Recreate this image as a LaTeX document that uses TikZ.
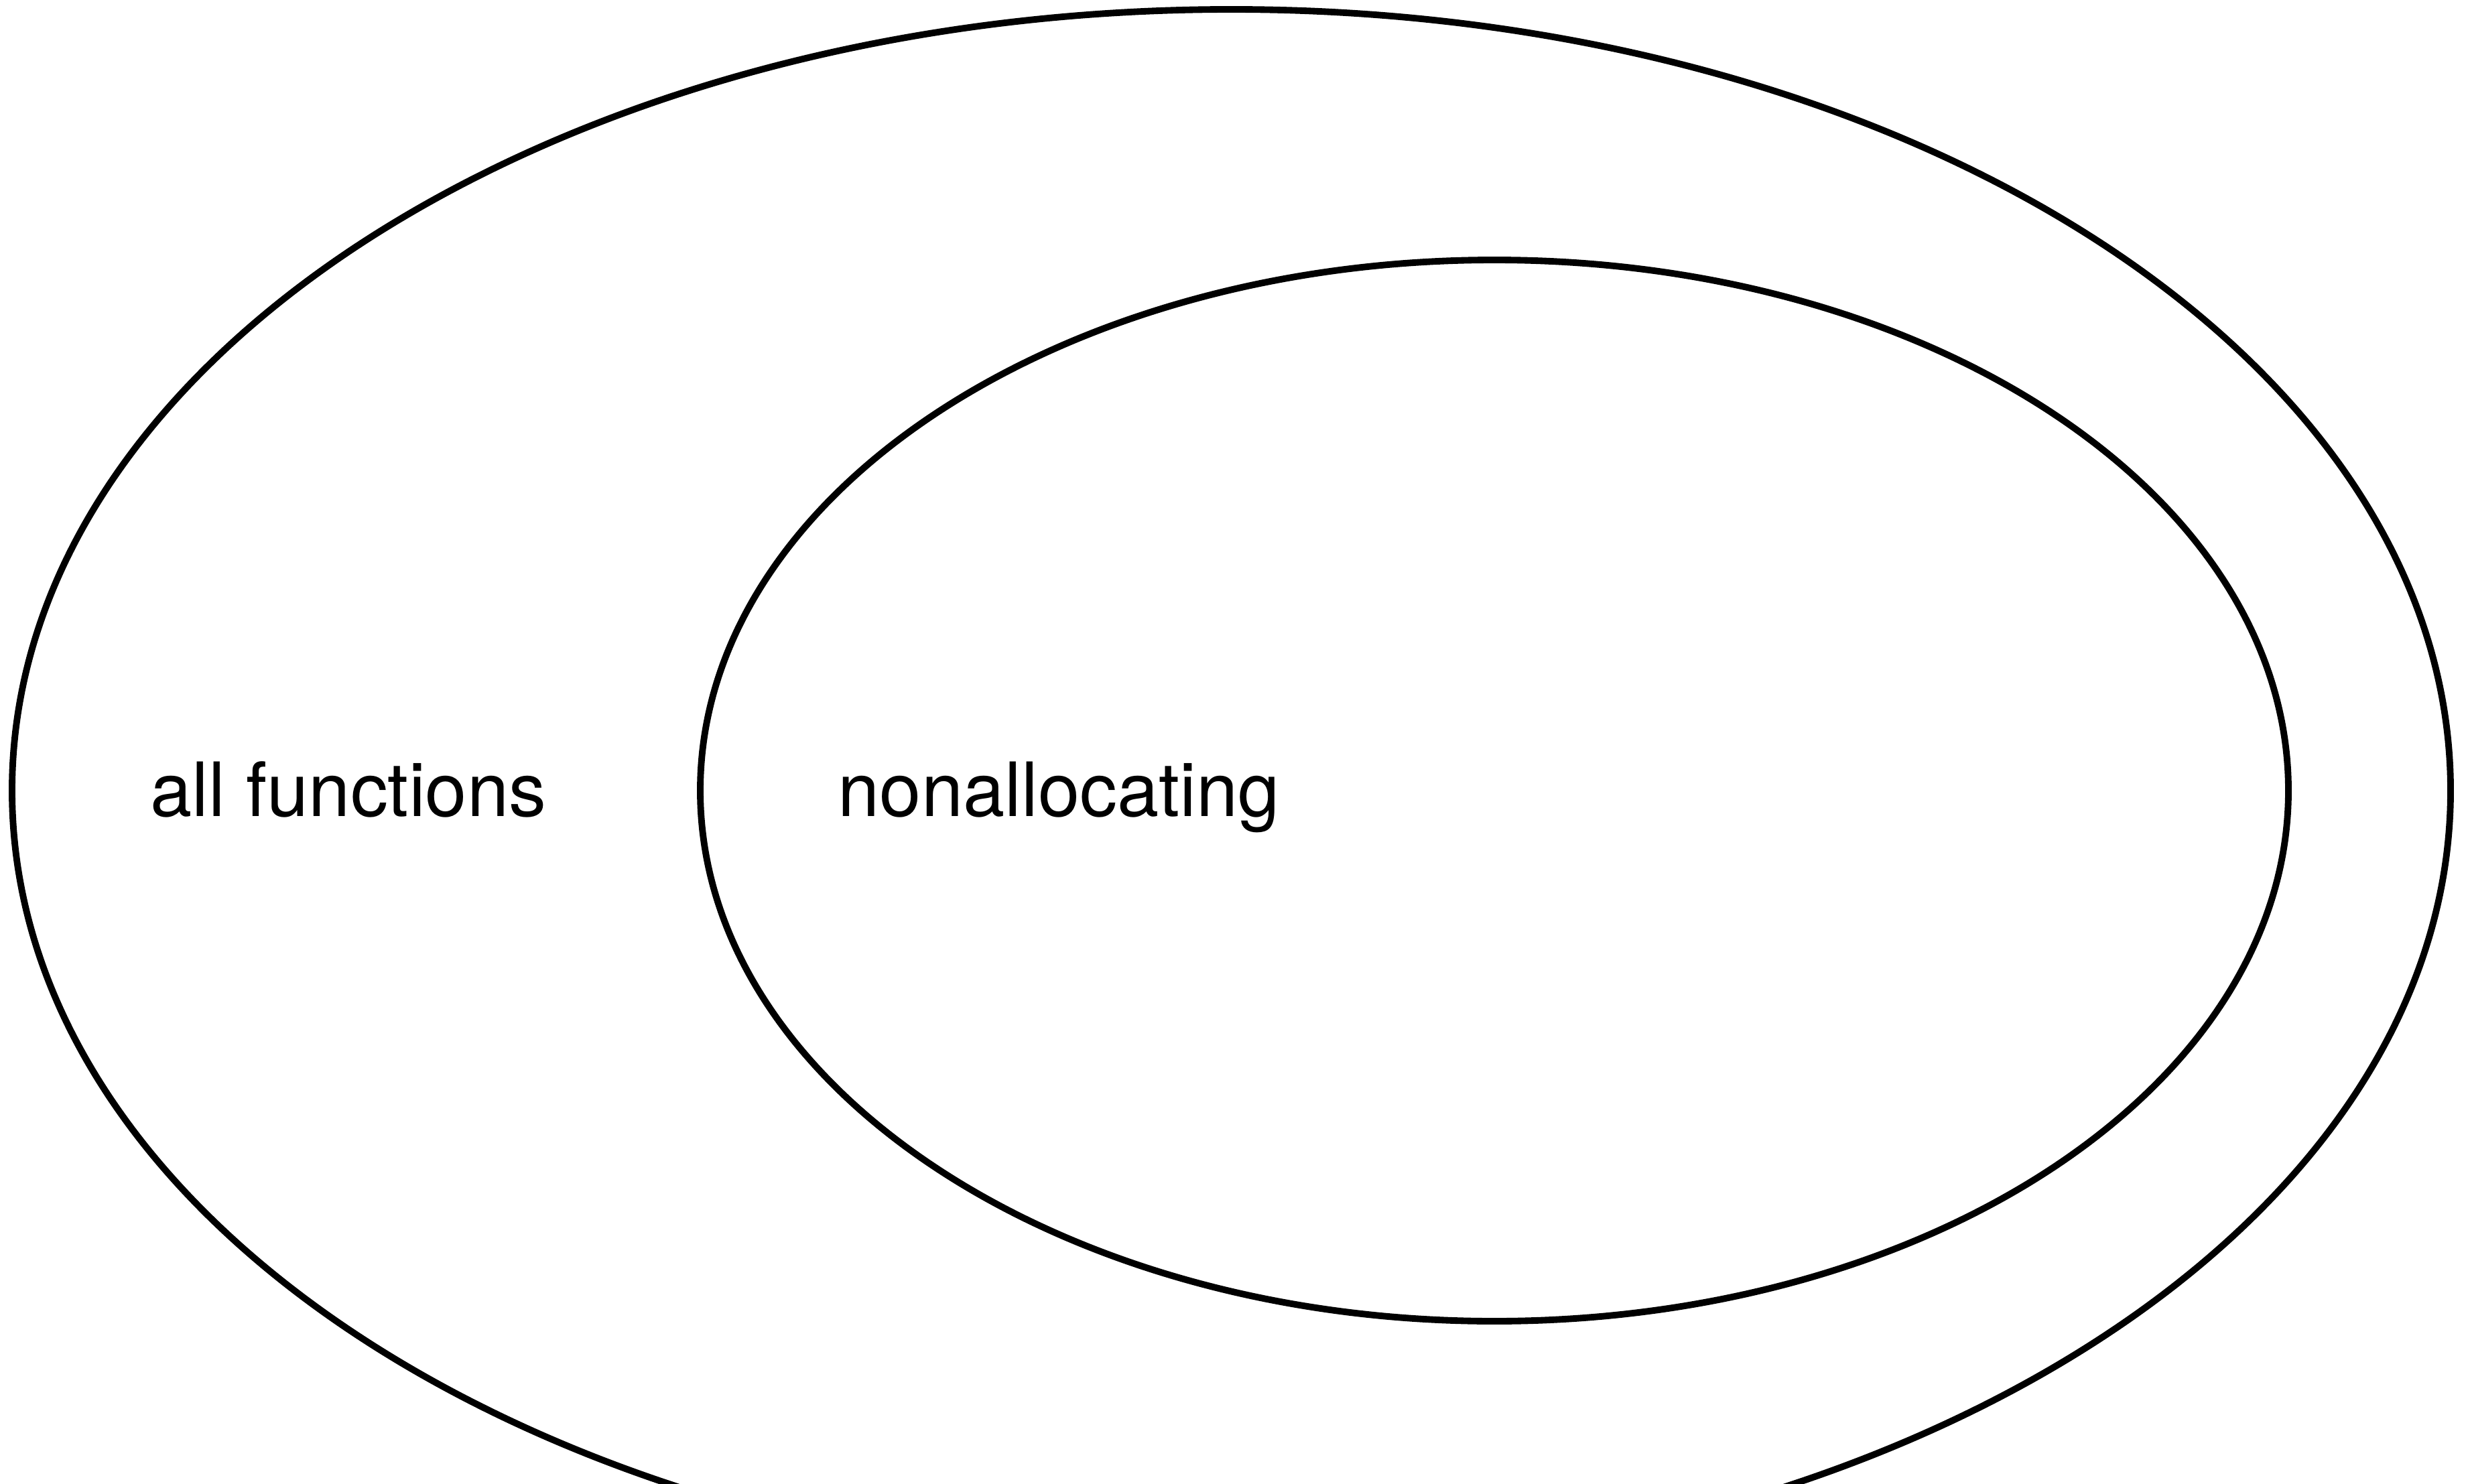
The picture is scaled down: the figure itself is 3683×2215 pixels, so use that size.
\documentclass[tikz,border=0pt]{standalone}
\usepackage{fontspec}
\setmainfont{TeX Gyre Heros}
\begin{document}
\begin{tikzpicture}[x=0.01cm,y=-0.01cm,
  setline/.style={draw=black,line width=2.8pt},
  setlabel/.style={anchor=base west,inner sep=0pt,font=\fontsize{31.8}{38}\selectfont}]
\useasboundingbox (0,0) rectangle (3683,2215);
\begin{scope}
\clip (0,0) rectangle (3683,2215);
\draw[setline] (1837.5,1180) ellipse [x radius=1819.5, y radius=1166];
\end{scope}
\draw[setline] (2230,1180) ellipse [x radius=1185, y radius=792];
\node[setlabel] (all) at (224,1218) {all functions};
\node[setlabel] (nonalloc) at (1250,1218) {nonallocating};
\end{tikzpicture}
\end{document}
